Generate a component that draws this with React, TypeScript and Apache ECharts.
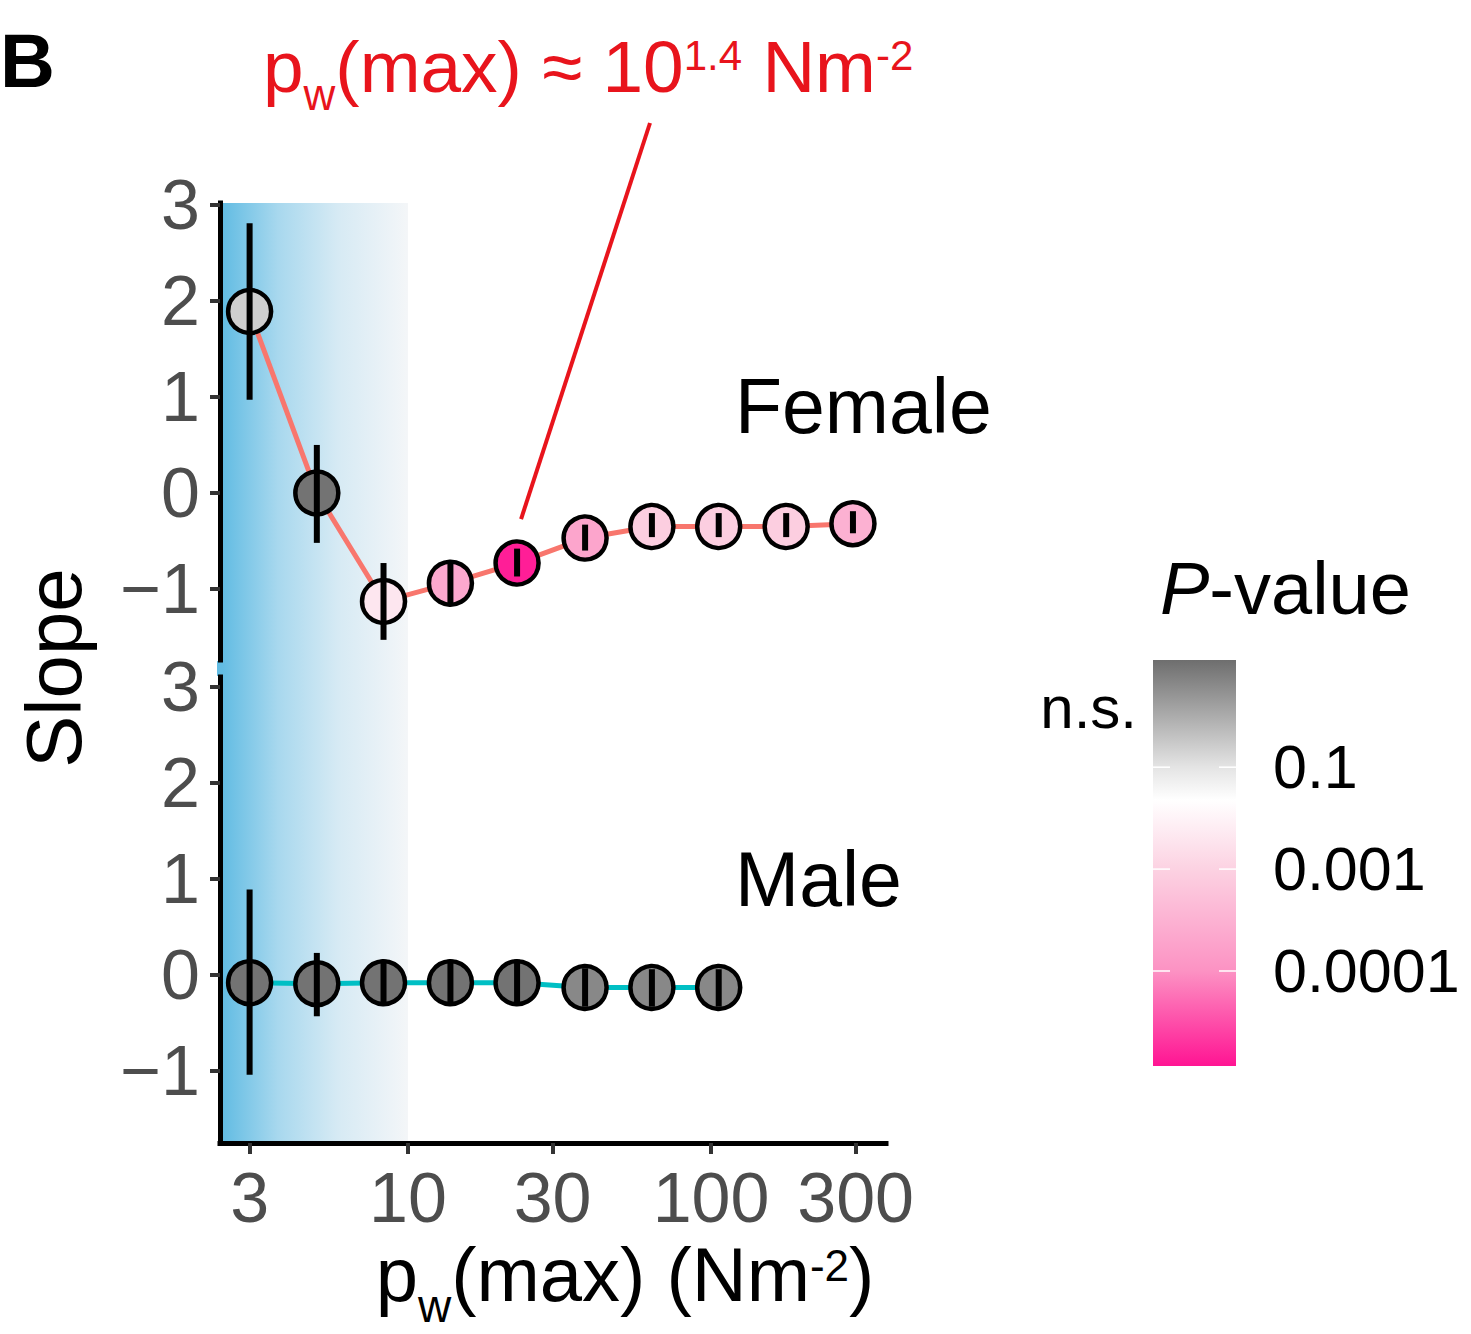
import React, { useEffect, useRef } from "react";
import * as echarts from "echarts";

// ---------- data ----------
const pressure = [3, 5, 8.3, 13.8, 22.9, 38.4, 63.8, 106, 177, 294];
const femaleSlope = [1.89, 0.0, -1.13, -0.94, -0.73, -0.47, -0.35, -0.35, -0.35, -0.32];
const femaleLow = [0.97, -0.52, -1.53, -1.17, -0.87, -0.6, -0.46, -0.46, -0.46, -0.42];
const femaleHigh = [2.81, 0.5, -0.73, -0.71, -0.58, -0.33, -0.21, -0.21, -0.21, -0.19];
const femaleP = [0.15, 0.9, 0.004, 0.00022, 0.000012, 0.0002, 0.00087, 0.00087, 0.00087, 0.0003];

const malePressure = [3, 5, 8.3, 13.8, 22.9, 38.4, 63.8, 106];
const maleSlope = [-0.08, -0.09, -0.08, -0.08, -0.08, -0.13, -0.13, -0.13];
const maleLow = [-1.04, -0.43, -0.32, -0.32, -0.32, -0.33, -0.33, -0.33];
const maleHigh = [0.89, 0.23, 0.16, 0.16, 0.16, 0.07, 0.06, 0.06];
const maleP = [0.9, 0.9, 0.9, 0.9, 0.9, 0.6, 0.6, 0.6];

const xTicks = [3, 10, 30, 100, 300];
const yTicks = [-1, 0, 1, 2, 3];
const pBreaks = [0.1, 0.001, 0.0001];
const pBreakLabels = ["0.1", "0.001", "0.0001"];
const optimumIndex = 4; // pw(max) ≈ 10^1.4
const shadeUpTo = 10;

// ---------- styling ----------
const FONT = "'Liberation Sans', Arial, Helvetica, sans-serif";
const RED = "#e8141c";
const X_MIN = 0.3794;
const X_MAX = 2.5774;
const TOP_Y = [-1.74, 3.02];
const BOT_Y = [-1.75, 3.104];

const pAnchorValues = [1, 0.1, 0.001, 0.0001, 0.00001];
const pAnchorFracs = [0, 0.264, 0.515, 0.766, 1];
const legendStops: [number, string][] = [
  [0, "#6e6e6e"],
  [0.264, "#e4e4e4"],
  [0.345, "#ffffff"],
  [0.515, "#fcd2e2"],
  [0.766, "#fc92c3"],
  [1, "#ff1493"],
];

const lg = (v: number) => Math.log10(v);

function pToFrac(p: number) {
  const lp = Math.log10(p);
  for (let i = 0; i < pAnchorValues.length - 1; i++) {
    const a = Math.log10(pAnchorValues[i]);
    const b = Math.log10(pAnchorValues[i + 1]);
    if (lp <= a && lp >= b) {
      return pAnchorFracs[i] + ((a - lp) / (a - b)) * (pAnchorFracs[i + 1] - pAnchorFracs[i]);
    }
  }
  return lp > 0 ? 0 : 1;
}
function hexToRgb(h: string) {
  const n = parseInt(h.slice(1), 16);
  return [(n >> 16) & 255, (n >> 8) & 255, n & 255];
}
function fracToColor(f: number) {
  for (let i = 0; i < legendStops.length - 1; i++) {
    const [f0, c0] = legendStops[i];
    const [f1, c1] = legendStops[i + 1];
    if (f >= f0 && f <= f1) {
      const t = (f - f0) / (f1 - f0);
      const a = hexToRgb(c0);
      const b = hexToRgb(c1);
      const c = a.map((v, k) => Math.round(v + (b[k] - v) * t));
      return `rgb(${c[0]},${c[1]},${c[2]})`;
    }
  }
  return legendStops[legendStops.length - 1][1];
}
const pColor = (p: number) => fracToColor(pToFrac(p));

function yFmt(v: number) {
  return v < 0 ? "\u2212" + Math.abs(v) : String(v);
}

function yAxisOpt(gridIndex: number, range: number[]) {
  return {
    gridIndex,
    type: "value",
    min: range[0],
    max: range[1],
    z: 10,
    axisLine: { show: true, onZero: false, lineStyle: { color: "#000", width: 5, cap: "square" } },
    axisTick: { show: true, length: 10, lineStyle: { color: "#333", width: 4 }, customValues: yTicks },
    axisLabel: {
      customValues: yTicks,
      formatter: yFmt,
      fontSize: 70,
      color: "#4d4d4d",
      fontFamily: FONT,
      margin: 20,
    },
    splitLine: { show: false },
  };
}

function groupSeries(
  gi: number,
  xs: number[],
  ys: number[],
  lo: number[],
  hi: number[],
  ps: number[],
  lineColor: string
) {
  return [
    {
      type: "line",
      xAxisIndex: gi,
      yAxisIndex: gi,
      data: xs.map((x, i) => [lg(x), ys[i]]),
      showSymbol: false,
      symbol: "none",
      lineStyle: { color: lineColor, width: 5 },
      z: 3,
      silent: true,
    },
    {
      type: "scatter",
      xAxisIndex: gi,
      yAxisIndex: gi,
      symbol: "circle",
      symbolSize: 43,
      data: xs.map((x, i) => ({ value: [lg(x), ys[i]], itemStyle: { color: pColor(ps[i]) } })),
      itemStyle: { borderColor: "#000", borderWidth: 4.5, opacity: 1 },
      z: 4,
      silent: true,
    },
    {
      type: "custom",
      xAxisIndex: gi,
      yAxisIndex: gi,
      data: xs.map((x, i) => [lg(x), lo[i], hi[i]]),
      encode: { x: 0, y: [1, 2] },
      renderItem: (_params: any, api: any) => {
        const x = api.value(0);
        const a = api.coord([x, api.value(1)]);
        const b = api.coord([x, api.value(2)]);
        return {
          type: "line",
          shape: { x1: a[0], y1: a[1], x2: b[0], y2: b[1] },
          style: { stroke: "#000", lineWidth: 6 },
        };
      },
      z: 5,
      silent: true,
    },
  ];
}

export default function App() {
  const ref = useRef<HTMLDivElement>(null);
  useEffect(() => {
    document.body.style.margin = "0";
    const chart = echarts.init(ref.current!, null, { renderer: "svg" });
    const option: any = {
      animation: false,
      backgroundColor: "#ffffff",
      textStyle: { fontFamily: FONT },
      grid: [
        { left: 220, top: 203, width: 666, height: 457, outerBoundsMode: "none" },
        { left: 220, top: 677, width: 666, height: 466, outerBoundsMode: "none" },
      ],
      xAxis: [
        {
          gridIndex: 0,
          type: "value",
          min: X_MIN,
          max: X_MAX,
          axisLine: { show: false },
          axisTick: { show: false },
          axisLabel: { show: false },
          splitLine: { show: false },
        },
        {
          gridIndex: 1,
          type: "value",
          min: X_MIN,
          max: X_MAX,
          z: 10,
          axisLine: { show: true, onZero: false, lineStyle: { color: "#000", width: 5, cap: "square" } },
          axisTick: {
            show: true,
            length: 11,
            lineStyle: { color: "#333", width: 4 },
            customValues: xTicks.map(lg),
          },
          axisLabel: {
            customValues: xTicks.map(lg),
            formatter: (v: number) => String(Math.round(Math.pow(10, v))),
            fontSize: 70,
            color: "#4d4d4d",
            fontFamily: FONT,
            margin: 20,
          },
          splitLine: { show: false },
        },
      ],
      yAxis: [yAxisOpt(0, TOP_Y), yAxisOpt(1, BOT_Y)],
      series: [
        ...groupSeries(0, pressure, femaleSlope, femaleLow, femaleHigh, femaleP, "#f8766d"),
        ...groupSeries(1, malePressure, maleSlope, maleLow, maleHigh, maleP, "#00bfc4"),
      ],
    };
    chart.setOption(option);

    // pixel positions from the axes
    const left = chart.convertToPixel({ gridIndex: 1 } as any, [X_MIN, BOT_Y[0]]) as number[];
    const botTop = chart.convertToPixel({ gridIndex: 1 } as any, [X_MIN, BOT_Y[1]]) as number[];
    const tenPx = chart.convertToPixel({ gridIndex: 1 } as any, [lg(shadeUpTo), BOT_Y[0]]) as number[];
    const topPx = chart.convertToPixel({ gridIndex: 0 } as any, [X_MIN, TOP_Y[1]]) as number[];
    const topBot = chart.convertToPixel({ gridIndex: 0 } as any, [X_MIN, TOP_Y[0]]) as number[];
    const opt = chart.convertToPixel({ gridIndex: 0 } as any, [
      lg(pressure[optimumIndex]),
      femaleSlope[optimumIndex],
    ]) as number[];

    const cbX = 1153;
    const cbY = 660;
    const cbW = 83;
    const cbH = 406;

    const bgFill = () =>
      new echarts.graphic.LinearGradient(0, 0, 1, 0, [
        { offset: 0, color: "#62bce3" },
        { offset: 0.3, color: "#a8d8ee" },
        { offset: 0.62, color: "#d6eaf4" },
        { offset: 1, color: "#f4f6f8" },
      ]);

    const graphic: any[] = [
      {
        type: "rect",
        id: "bg",
        z: -10,
        silent: true,
        shape: { x: left[0] + 2.5, y: topPx[1], width: tenPx[0] - left[0] - 2.5, height: left[1] - topPx[1] },
        style: { fill: bgFill() },
      },
      {
        type: "rect",
        id: "bgGap",
        z: -10,
        silent: true,
        shape: { x: left[0] - 3, y: topBot[1] + 1, width: 6, height: botTop[1] - topBot[1] - 2 },
        style: { fill: "#62bce3" },
      },
      {
        type: "text",
        id: "B",
        x: 0,
        y: 60,
        style: {
          text: "B",
          fontSize: 76,
          fontWeight: "bold",
          fontFamily: FONT,
          fill: "#000",
          align: "left",
          verticalAlign: "middle",
        },
      },
      {
        type: "text",
        id: "annot",
        x: 263,
        y: 16,
        style: {
          text: "{m|p}{sub|w}{m|(max) \u2248 10}{sup|1.4}{m| Nm}{sup|-2}",
          fill: RED,
          fontFamily: FONT,
          fontSize: 73,
          align: "left",
          verticalAlign: "top",
          rich: {
            m: { fontSize: 73, lineHeight: 100, fontFamily: FONT, fill: RED },
            sub: { fontSize: 44, lineHeight: 34, verticalAlign: "bottom", fontFamily: FONT, fill: RED },
            sup: {
              fontSize: 42,
              lineHeight: 40,
              verticalAlign: "top",
              padding: [18, 0, 0, 0],
              fontFamily: FONT,
              fill: RED,
            },
          },
        },
      },
      {
        type: "line",
        id: "annotLine",
        silent: true,
        shape: { x1: 650, y1: 123, x2: opt[0] + 4, y2: opt[1] - 44 },
        style: { stroke: RED, lineWidth: 4 },
      },
      {
        type: "text",
        id: "female",
        x: 735,
        y: 406,
        style: { text: "Female", fontSize: 77, fontFamily: FONT, fill: "#000", align: "left", verticalAlign: "middle" },
      },
      {
        type: "text",
        id: "male",
        x: 735,
        y: 879,
        style: { text: "Male", fontSize: 77, fontFamily: FONT, fill: "#000", align: "left", verticalAlign: "middle" },
      },
      {
        type: "text",
        id: "slope",
        x: 54,
        y: 668,
        rotation: Math.PI / 2,
        style: { text: "Slope", fontSize: 78, fontFamily: FONT, fill: "#000", align: "center", verticalAlign: "middle" },
      },
      {
        type: "text",
        id: "xtitle",
        x: 625,
        y: 1219,
        style: {
          text: "{m|p}{sub|w}{m|(max) (Nm}{sup|-2}{m|)}",
          fill: "#000",
          fontFamily: FONT,
          fontSize: 76,
          align: "center",
          verticalAlign: "top",
          rich: {
            m: { fontSize: 76, lineHeight: 110, fontFamily: FONT, fill: "#000" },
            sub: { fontSize: 46, lineHeight: 30, verticalAlign: "bottom", fontFamily: FONT, fill: "#000" },
            sup: {
              fontSize: 44,
              lineHeight: 40,
              verticalAlign: "top",
              padding: [24, 0, 0, 0],
              fontFamily: FONT,
              fill: "#000",
            },
          },
        },
      },
      {
        type: "text",
        id: "ptitle",
        x: 1160,
        y: 588,
        style: {
          text: "{i|P}{n|-value}",
          fill: "#000",
          fontFamily: FONT,
          fontSize: 74,
          align: "left",
          verticalAlign: "middle",
          rich: {
            i: { fontSize: 74, fontStyle: "italic", fontFamily: FONT, fill: "#000" },
            n: { fontSize: 74, fontFamily: FONT, fill: "#000" },
          },
        },
      },
      {
        type: "rect",
        id: "cbar",
        silent: true,
        shape: { x: cbX, y: cbY, width: cbW, height: cbH },
        style: {
          fill: new echarts.graphic.LinearGradient(
            0,
            0,
            0,
            1,
            legendStops.map(([o, c]) => ({ offset: o, color: c }))
          ),
        },
      },
      {
        type: "text",
        id: "ns",
        x: 1137,
        y: 707,
        style: { text: "n.s.", fontSize: 60, fontFamily: FONT, fill: "#000", align: "right", verticalAlign: "middle" },
      },
    ];
    pBreaks.forEach((p, i) => {
      const y = cbY + pToFrac(p) * cbH;
      graphic.push(
        {
          type: "line",
          id: "tl" + i,
          silent: true,
          shape: { x1: cbX, y1: y, x2: cbX + 17, y2: y },
          style: { stroke: "#ffffff", lineWidth: 1.5 },
        },
        {
          type: "line",
          id: "tr" + i,
          silent: true,
          shape: { x1: cbX + cbW - 17, y1: y, x2: cbX + cbW, y2: y },
          style: { stroke: "#ffffff", lineWidth: 1.5 },
        },
        {
          type: "text",
          id: "tlab" + i,
          x: 1273,
          y,
          style: {
            text: pBreakLabels[i],
            fontSize: 61,
            fontFamily: FONT,
            fill: "#000",
            align: "left",
            verticalAlign: "middle",
          },
        }
      );
    });
    chart.setOption({ graphic });

    return () => chart.dispose();
  }, []);
  return (
    <div
      ref={ref}
      style={{ position: "absolute", left: 0, top: 0, width: 1471, height: 1334, background: "#fff" }}
    />
  );
}
